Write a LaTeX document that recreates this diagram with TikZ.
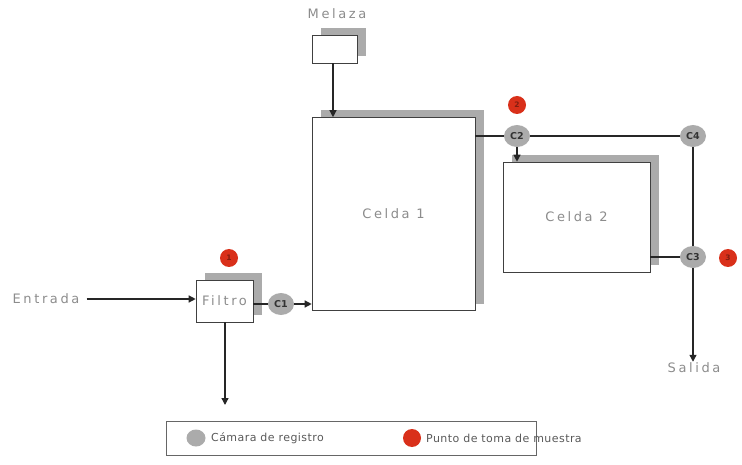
\documentclass[tikz,border=0pt]{standalone}
\usepackage{fontspec}
\setmainfont{DejaVu Sans}
\newfontfamily\spacedfont[LetterSpace=20]{DejaVu Sans}
\newfontfamily\legendfont[LetterSpace=4]{DejaVu Sans}
\usetikzlibrary{shapes.geometric,shadows,arrows.meta}
\definecolor{txtgray}{HTML}{8C8C8C}
\definecolor{shadegray}{HTML}{ABABAB}
\definecolor{chamber}{HTML}{ABABAB}
\definecolor{sample}{HTML}{D9301A}
\begin{document}
\begin{tikzpicture}[x=1pt,y=-1pt,
  tank/.style={draw=black!75, fill=white, line width=0.6pt, inner sep=0pt,
    font=\spacedfont\fontsize{13}{15}\selectfont, text=txtgray,
    drop shadow={shadow xshift=9pt, shadow yshift=7pt, fill=shadegray, opacity=1}},
  chamberdot/.style={ellipse, fill=chamber, minimum width=26pt, minimum height=22pt,
    inner sep=0pt, font=\fontsize{9.5}{10}\selectfont\bfseries, text=black!80},
  sampledot/.style={circle, fill=sample, minimum size=18pt, inner sep=0pt,
    font=\fontsize{7.5}{8}\selectfont\bfseries, text=sample!60!black},
  lbl/.style={font=\spacedfont\fontsize{13}{15}\selectfont, text=txtgray, inner sep=1pt},
  legendlbl/.style={font=\legendfont\fontsize{11}{13}\selectfont, text=black!65, inner sep=1pt},
  pipe/.style={line width=1.3pt, black!85},
  flow/.style={pipe, -{Triangle[length=7pt,width=7pt]}}]

\useasboundingbox (0,0) rectangle (742,465);

% process units
\node[tank, minimum width=57pt, minimum height=42pt] (filtro) at (224.5,301) {Filtro};
\node[tank, minimum width=45pt, minimum height=28pt] (melaza) at (334.5,49) {};
\node[tank, minimum width=163pt, minimum height=193pt] (celda1) at (393.5,214) {Celda 1};
\node[tank, minimum width=147pt, minimum height=110pt] (celda2) at (576.5,217) {Celda 2};

% labels
\node[lbl] (entrada) at (46,299) {Entrada};
\node[lbl] (melazalbl) at (337,14) {Melaza};
\node[lbl] (salida) at (694,368) {Salida};
\coordinate (rechazo) at (225,405);

% registration chambers
\node[chamberdot] (c1) at (281,304) {C1};
\node[chamberdot] (c2) at (517,136) {C2};
\node[chamberdot] (c4) at (693,136) {C4};
\node[chamberdot] (c3) at (693,257) {C3};

% sampling points
\node[sampledot] (p1) at (229,258) {1};
\node[sampledot] (p2) at (517,105) {2};
\node[sampledot] (p3) at (728,258) {3};

% piping
\draw[flow] ([xshift=6pt]entrada.east) -- (entrada -| filtro.west);
\draw[pipe] (filtro.east |- c1) -- (c1.west);
\draw[flow] (c1.east) -- (c1 -| celda1.west);
\draw[flow] (filtro.south -| rechazo) -- (rechazo);
\draw[flow] (melaza.south -| 333,0) -- (celda1.north -| 333,0);
\draw[pipe] (celda1.east |- c2) -- (c2.west);
\draw[pipe] (c2.east) -- (c4.west);
\draw[flow] (c2.south) -- (c2 |- celda2.north);
\draw[pipe] (c4.south) -- (c3.north);
\draw[pipe] (celda2.east |- c3) -- (c3.west);
\draw[flow] (c3.south) -- (c3 |- salida.north);

% legend
\node[draw=black!60, line width=0.6pt, minimum width=370pt, minimum height=34pt] (legend) at (351,438) {};
\node[chamberdot, minimum width=19pt, minimum height=17pt] (lgc) at (196,438) {};
\node[legendlbl, anchor=west] (lgctxt) at (210,438) {Cámara de registro};
\node[sampledot] (lgp) at (412,438) {};
\node[legendlbl, anchor=west] (lgptxt) at (425,438) {Punto de toma de muestra};
\end{tikzpicture}
\end{document}
